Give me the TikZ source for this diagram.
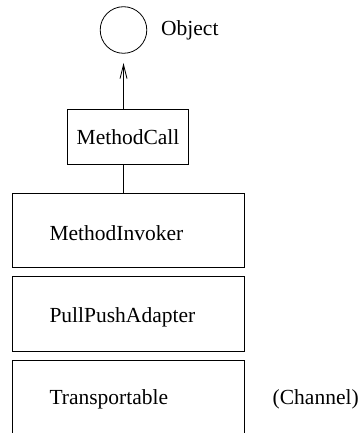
\documentclass[tikz,border=0pt]{standalone}
\usepackage{fontspec}
\setmainfont{Liberation Serif}
\usetikzlibrary{arrows.meta}
\begin{document}
\begin{tikzpicture}[x=1pt,y=-1pt,
  every node/.style={font=\fontsize{21.5}{25}\selectfont, inner sep=0pt},
  layer/.style={draw, line width=0.8pt, minimum width=231.7pt, anchor=north west},
  line/.style={line width=0.8pt}]
\useasboundingbox (0,0) rectangle (362,433);
\begin{scope}
\clip (0,0) rectangle (362,433);
\node[circle, draw, line width=0.8pt, minimum size=46.6pt] (obj) at (123.5,30) {};
\node[anchor=west] (objlbl) at (161,30.5) {Object};
\node[draw, line width=0.8pt, minimum width=120.6pt, minimum height=55.7pt] (mc) at (128,136.8) {MethodCall};
\node[layer, minimum height=74.6pt] (mi) at (12.3,192.5) {};
\node[anchor=west] (mit) at (49.3,233) {MethodInvoker};
\node[layer, minimum height=74.7pt] (ppa) at (12.3,276) {};
\node[anchor=west] (ppat) at (49.3,317) {PullPushAdapter};
\node[layer, minimum height=90pt] (tr) at (12.3,360) {};
\node[anchor=west] (trt) at (49.3,399.5) {Transportable};
\node[anchor=west] (ch) at (272.5,399.5) {(Channel)};
\coordinate (tip) at (123.5,63);
\draw[line, -{Straight Barb[length=14pt,width=7pt,line width=0.8pt]}] (mc.north -| tip) -- (tip);
\draw[line] (mc.south -| tip) -- (mi.north -| tip);
\end{scope}
\end{tikzpicture}
\end{document}
